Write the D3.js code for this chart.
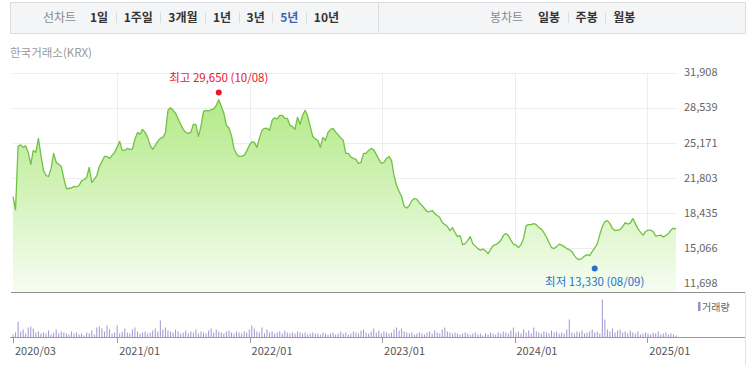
<!DOCTYPE html>
<html>
<head>
<meta charset="utf-8">
<script src="https://cdn.jsdelivr.net/npm/d3@7"></script>
<style>
  body { margin: 0; background: #fff; }
  svg { font-family: "Noto Sans CJK KR", "Noto Sans", sans-serif; display: block; }
</style>
</head>
<body>
<div id="container"></div>
<script>
// weekly closes, first week 2020/03/20
const startDate = new Date(2020, 2, 20);

const price = [
  20000, 18750, 24820, 24960, 24720, 24860, 24240, 23080, 24430, 24240,
  25590, 23950, 22510, 22020, 21930, 22700, 24140, 23280, 23090, 22890,
  21740, 20770, 20770, 20820, 20970, 20920, 21060, 21500, 21640, 21830,
  22790, 21350, 21640, 22020, 22890, 23370, 23850, 23850, 23660, 23950,
  24240, 24740, 25300, 24430, 24430, 24620, 24530, 24560, 25490, 26160,
  25970, 26450, 26160, 25680, 24910, 24530, 24910, 25300, 25590, 25680,
  26110, 28280, 28520, 28280, 27990, 27460, 26930, 26450, 26160, 26070,
  26160, 26930, 26930, 25780, 26740, 28180, 28280, 28230, 28330, 28420,
  28760, 29290, 28660, 27990, 26840, 26580, 25870, 24620, 24090, 23850,
  23850, 23950, 24360, 24910, 25250, 25200, 24720, 25590, 26350, 26550,
  26550, 26350, 27320, 27560, 27460, 27800, 27800, 27510, 27510, 26840,
  26740, 26450, 27610, 26930, 27800, 28280, 27700, 26740, 25780, 25530,
  25400, 24720, 25680, 25400, 26160, 26450, 26550, 26210, 25920, 25630,
  25400, 24140, 24140, 23800, 23660, 23560, 23180, 23270, 24140, 24140,
  24430, 24620, 24480, 24050, 23560, 23180, 23270, 23660, 23850, 23470,
  22020, 21060, 20480, 20000, 19040, 18900, 19140, 19620, 19810, 19720,
  19380, 19140, 18850, 18560, 18560, 18660, 18370, 18170, 17980, 17500,
  17310, 17120, 16730, 17020, 16540, 16150, 16250, 15380, 15480, 15770,
  16150, 15480, 15240, 15000, 14850, 14950, 14800, 14520, 14900, 15290,
  15380, 15530, 15770, 16250, 16440, 16250, 15820, 15430, 15330, 15100,
  15380, 15960, 17210, 17310, 17310, 17400, 17310, 17020, 16870, 16540,
  16110, 15580, 15100, 15000, 15190, 15430, 15330, 15190, 15000, 14900,
  14710, 14330, 14040, 13940, 14080, 14280, 14420, 14330, 14710, 15060,
  15450, 16350, 17120, 17600, 17690, 17400, 16920, 16730, 16780, 16830,
  17120, 17500, 17360, 17450, 17880, 17400, 16920, 16590, 16300, 16640,
  16780, 16780, 16640, 16200, 16250, 16300, 16110, 16250, 16440, 16780,
  16970, 16870
];

// weekly volume (만주)
const volume = [
  3, 5, 16, 6, 8, 4, 10, 11, 9, 5,
  6, 4, 5, 4, 7, 3, 5, 8, 4, 6,
  5, 4, 3, 6, 4, 5, 3, 4, 2, 5,
  4, 7, 3, 10, 11, 9, 6, 12, 8, 4,
  5, 12, 4, 6, 9, 5, 4, 8, 10, 6,
  4, 5, 6, 4, 5, 7, 9, 6, 17, 8,
  10, 7, 6, 5, 8, 6, 4, 5, 7, 4,
  6, 5, 8, 4, 6, 5, 4, 7, 9, 5,
  8, 6, 5, 4, 6, 7, 5, 4, 6, 5,
  4, 6, 5, 8, 12, 9, 6, 5, 10, 4,
  8, 5, 6, 4, 5, 6, 4, 7, 5, 4,
  5, 4, 6, 5, 4, 5, 3, 4, 5, 4,
  4, 3, 5, 4, 3, 4, 5, 3, 4, 6,
  4, 5, 3, 4, 6, 5, 4, 7, 8, 5,
  4, 6, 9, 5, 7, 4, 6, 5, 4, 5,
  8, 10, 7, 9, 6, 5, 4, 5, 3, 4,
  5, 4, 3, 5, 6, 4, 7, 5, 4, 8,
  10, 6, 5, 4, 5, 4, 3, 4, 5, 4,
  3, 4, 5, 3, 4, 2, 4, 3, 5, 4,
  3, 5, 4, 6, 5, 4, 7, 10, 5, 6,
  4, 8, 5, 7, 4, 10, 6, 5, 4, 6,
  5, 4, 7, 5, 6, 4, 5, 4, 8, 18,
  5, 4, 6, 5, 7, 4, 5, 6, 8, 5,
  6, 4, 38, 18, 8, 6, 9, 5, 7, 8,
  5, 6, 4, 7, 5, 4, 6, 3, 4, 5,
  4, 3, 5, 4, 6, 3, 4, 5, 3, 4,
  3, 2
];

const yTicks = [31908, 28539, 25171, 21803, 18435, 15066, 11698];
const xTickDates = ["2020-03-20", "2021-01-01", "2022-01-01", "2023-01-01", "2024-01-01", "2025-01-01"];
const xTickLabels = ["2020/03", "2021/01", "2022/01", "2023/01", "2024/01", "2025/01"];

const highPoint = { date: "2021-10-08", value: 29650, label: "최고 29,650 (10/08)" };
const lowPoint = { date: "2024-08-09", value: 13330, label: "최저 13,330 (08/09)" };

const lineTabs = ["1일", "1주일", "3개월", "1년", "3년", "5년", "10년"];
const candleTabs = ["일봉", "주봉", "월봉"];
const activeTab = "5년";

const parse = d3.timeParse("%Y-%m-%d");
const data = price.map((v, i) => ({
  date: d3.timeDay.offset(startDate, 7 * i),
  value: v,
  volume: volume[i],
}));

const svg = d3
  .select("#container")
  .append("svg")
  .attr("width", 750)
  .attr("height", 365);

const x = d3
  .scaleTime()
  .domain([data[0].date, data[data.length - 1].date])
  .range([13, 676]);
const y = d3.scaleLinear().domain([11698, 31908]).range([283, 72.5]);
const yVol = d3.scaleLinear().domain([0, 40]).range([337.5, 297.5]);

// tab bar
svg
  .append("rect")
  .attr("x", 10.5)
  .attr("y", 2.5)
  .attr("width", 735)
  .attr("height", 31)
  .attr("fill", "#f4f5f7")
  .attr("stroke", "#dddddd");
svg
  .append("line")
  .attr("x1", 378.5)
  .attr("x2", 378.5)
  .attr("y1", 3)
  .attr("y2", 33)
  .attr("stroke", "#dddddd");

const drawTabs = (title, titleX, tabs, startX) => {
  svg
    .append("text")
    .attr("x", titleX)
    .attr("y", 21.5)
    .attr("font-size", 12)
    .attr("fill", "#8a8a8a")
    .text(title);
  let cx = startX;
  tabs.forEach((t, i) => {
    const txt = svg
      .append("text")
      .attr("x", cx)
      .attr("y", 21.5)
      .attr("font-size", 12)
      .attr("font-weight", "bold")
      .attr("fill", t === activeTab ? "#3b63b9" : "#333")
      .text(t);
    cx += txt.node().getComputedTextLength() + 7.5;
    if (i < tabs.length - 1) {
      svg
        .append("line")
        .attr("x1", Math.round(cx) + 0.5)
        .attr("x2", Math.round(cx) + 0.5)
        .attr("y1", 12)
        .attr("y2", 23)
        .attr("stroke", "#dcdcdc");
      cx += 8;
    }
  });
};
drawTabs("선차트", 43, lineTabs, 90);
drawTabs("봉차트", 490, candleTabs, 538);

svg
  .append("text")
  .attr("x", 10)
  .attr("y", 57)
  .attr("font-size", 11.5)
  .attr("fill", "#999")
  .text("한국거래소(KRX)");

// grid
svg
  .selectAll(".hgrid")
  .data(yTicks)
  .enter()
  .append("line")
  .attr("x1", 12)
  .attr("x2", 677)
  .attr("y1", (d) => Math.round(y(d)) + 0.5)
  .attr("y2", (d) => Math.round(y(d)) + 0.5)
  .attr("stroke", "#ededed");

svg
  .selectAll(".vgrid")
  .data(xTickDates.slice(1))
  .enter()
  .append("line")
  .attr("x1", (d) => Math.round(x(parse(d))) + 0.5)
  .attr("x2", (d) => Math.round(x(parse(d))) + 0.5)
  .attr("y1", y(31908))
  .attr("y2", 292)
  .attr("stroke", "#ededed");

// price area + line
const grad = svg
  .append("defs")
  .append("linearGradient")
  .attr("id", "areaGrad")
  .attr("gradientUnits", "userSpaceOnUse")
  .attr("x1", 0)
  .attr("x2", 0)
  .attr("y1", y(29650))
  .attr("y2", 292);
grad.append("stop").attr("offset", 0).attr("stop-color", "#b2e986");
grad.append("stop").attr("offset", 1).attr("stop-color", "#f6fdf1");

svg
  .append("path")
  .datum(data)
  .attr("fill", "url(#areaGrad)")
  .attr(
    "d",
    d3
      .area()
      .x((d) => x(d.date))
      .y0(292)
      .y1((d) => y(d.value))
  );

svg
  .append("path")
  .datum(data)
  .attr("fill", "none")
  .attr("stroke", "#70c242")
  .attr("stroke-width", 1.3)
  .attr("stroke-linejoin", "round")
  .attr(
    "d",
    d3
      .line()
      .x((d) => x(d.date))
      .y((d) => y(d.value))
  );

// y labels
svg
  .selectAll(".ylab")
  .data(yTicks)
  .enter()
  .append("text")
  .attr("x", 684)
  .attr("y", (d) => y(d))
  .attr("dy", "0.35em")
  .attr("font-size", 11)
  .attr("fill", "#666")
  .text((d) => d3.format(",")(d));

// high / low markers
const markers = [
  { p: highPoint, color: "#e8172e", dotOff: -3.5, textOff: -11 },
  { p: lowPoint, color: "#2a6fd1", dotOff: 2.5, textOff: 17 },
];
markers.forEach(({ p, color, dotOff, textOff }) => {
  const mx = x(parse(p.date));
  const my = y(p.value) + dotOff;
  svg.append("circle").attr("cx", mx).attr("cy", my).attr("r", 3).attr("fill", color);
  svg
    .append("text")
    .attr("x", mx)
    .attr("y", my + textOff)
    .attr("text-anchor", "middle")
    .attr("font-size", 11.5)
    .attr("fill", color)
    .text(p.label);
});

// axis line
svg
  .append("line")
  .attr("x1", 11)
  .attr("x2", 745)
  .attr("y1", 292.5)
  .attr("y2", 292.5)
  .attr("stroke", "#8f8f8f");
svg
  .append("line")
  .attr("x1", 745.5)
  .attr("x2", 745.5)
  .attr("y1", 292)
  .attr("y2", 365)
  .attr("stroke", "#e3e3e3");

// volume
svg
  .selectAll(".vol")
  .data(data)
  .enter()
  .append("rect")
  .attr("x", (d) => x(d.date) - 0.5)
  .attr("y", (d) => yVol(d.volume))
  .attr("width", 1)
  .attr("height", (d) => yVol(0) - yVol(d.volume))
  .attr("fill", "#a295d0");

svg
  .append("line")
  .attr("x1", 10)
  .attr("x2", 745)
  .attr("y1", 337.5)
  .attr("y2", 337.5)
  .attr("stroke", "#9a9a9a");

svg
  .selectAll(".xtick")
  .data(xTickDates)
  .enter()
  .append("line")
  .attr("x1", (d) => Math.round(x(parse(d))) + 0.5)
  .attr("x2", (d) => Math.round(x(parse(d))) + 0.5)
  .attr("y1", 337.5)
  .attr("y2", 343)
  .attr("stroke", "#9a9a9a");

svg
  .selectAll(".xlab")
  .data(xTickDates)
  .enter()
  .append("text")
  .attr("x", (d) => x(parse(d)) + 2)
  .attr("y", 355)
  .attr("font-size", 11)
  .attr("fill", "#555")
  .text((d, i) => xTickLabels[i]);

// volume legend
svg
  .append("rect")
  .attr("x", 698)
  .attr("y", 302)
  .attr("width", 2.5)
  .attr("height", 9)
  .attr("fill", "#9a8ccc");
svg
  .append("text")
  .attr("x", 702)
  .attr("y", 310.5)
  .attr("font-size", 10)
  .attr("fill", "#666")
  .text("거래량");
</script>
</body>
</html>
